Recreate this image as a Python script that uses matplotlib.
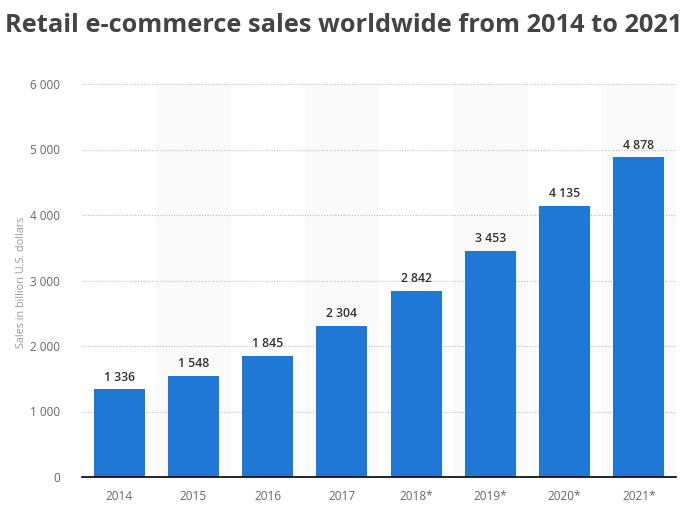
import matplotlib
matplotlib.use("Agg")
import matplotlib.pyplot as plt

years = ["2014", "2015", "2016", "2017", "2018*", "2019*", "2020*", "2021*"]
sales = [1336, 1548, 1845, 2304, 2842, 3453, 4135, 4878]
yticks = [0, 1000, 2000, 3000, 4000, 5000, 6000]
ytick_labels = ["0", "1 000", "2 000", "3 000", "4 000", "5 000", "6 000"]

plt.rcParams['font.family'] = ['Open Sans', 'DejaVu Sans']

fig = plt.figure(figsize=(6.88, 5.13), dpi=100)
ax = fig.add_axes([82/688, 36/513, 594/688, (477-84)/513])

x = list(range(len(years)))
for i in x:
    if i % 2 == 1:
        ax.axvspan(i - 0.5, i + 0.5, color="#fafafa", zorder=0, lw=0)

ax.bar(x, sales, width=0.69, color="#1f77d6", zorder=3)
for i, v in zip(x, sales):
    ax.text(i, v + 90, f"{v:,}".replace(",", " "), ha="center", va="bottom",
            fontsize=8.8, fontweight="semibold", color="#333333", zorder=4)

ax.set_xlim(-0.5, len(years) - 0.5)
ax.set_ylim(0, 6000)
ax.set_yticks(yticks)
ax.set_yticklabels(ytick_labels)
ax.set_xticks(x)
ax.set_xticklabels(years)
ax.tick_params(axis="both", length=0, labelsize=8.5, labelcolor="#666666")
ax.tick_params(axis="y", pad=16)
ax.tick_params(axis="x", pad=9)
ax.yaxis.grid(True, linestyle=(0, (1, 1.5)), color="#bbbbbb", lw=0.8, zorder=1)
ax.set_axisbelow(True)
for s in ["top", "right", "left"]:
    ax.spines[s].set_visible(False)
ax.spines["bottom"].set_color("#000000")
ax.spines["bottom"].set_linewidth(1.2)
ax.spines["bottom"].set_zorder(5)

fig.text(22/688, 1 - 282/513, "Sales in billion U.S. dollars", rotation=90,
         ha="center", va="center", fontsize=7.8, color="#999999")
fig.text(0.5, 1 - 25/513, "Retail e-commerce sales worldwide from 2014 to 2021",
         ha="center", va="center", fontsize=18.3, fontweight="bold", color="#444444")

fig.savefig("out.png", dpi=100)
